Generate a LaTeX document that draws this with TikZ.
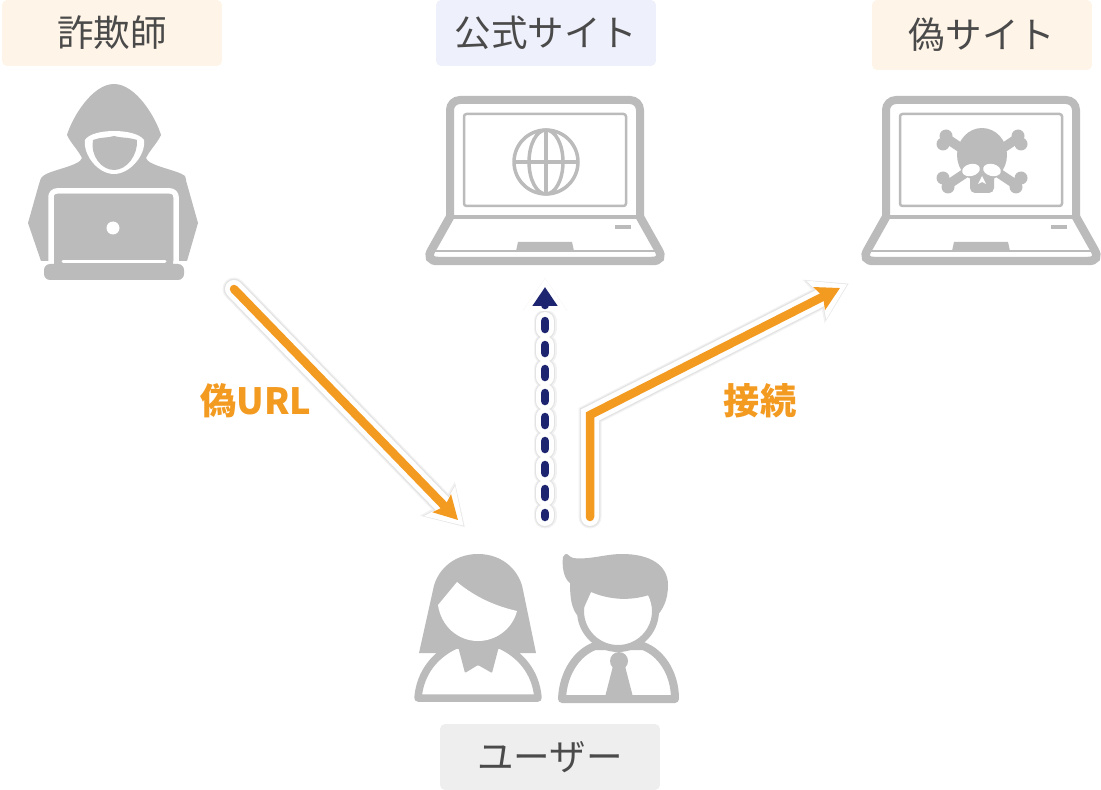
\documentclass[tikz,border=0pt]{standalone}
\usepackage{fontspec}
\setmainfont{Noto Sans CJK JP}
\usetikzlibrary{arrows.meta}
\definecolor{icongray}{HTML}{BBBBBB}
\definecolor{flowpeach}{HTML}{FFF4E8}
\definecolor{flowblue}{HTML}{EEF0FB}
\definecolor{flowgray}{HTML}{EEEEEE}
\definecolor{flowtext}{HTML}{4A4A4A}
\definecolor{floworange}{HTML}{F39A21}
\definecolor{flownavy}{HTML}{1E2570}
\tikzset{
  titlebox/.style={rounded corners=.1cm,minimum width=4.4cm,minimum height=1.32cm,inner sep=0pt,text=flowtext,font=\fontsize{20.8}{24}\selectfont},
  flowlabel/.style={text=floworange,inner sep=0pt,font=\fontsize{20.6}{24}\selectfont\bfseries},
  solidbase/.style={line width=.17cm,line cap=round,-{Stealth[length=.46cm,width=.5cm,inset=.08cm]}},
  solidhalo/.style={line width=.36cm,line cap=round,draw=white,shorten >=-.16cm,-{Stealth[length=.68cm,width=.84cm,inset=.12cm]}},
  solidblur/.style={line width=.46cm,line cap=round,draw=black!5,shift={(2.5,2.5)},shorten >=-.2cm,-{Stealth[length=.78cm,width=.94cm,inset=.12cm]}},
  solidshade/.style={line width=.41cm,line cap=round,draw=black!11,shift={(1.5,1.5)},shorten >=-.18cm,-{Stealth[length=.72cm,width=.88cm,inset=.12cm]}},
  solidline/.style={solidbase,draw=floworange},
  dashbase/.style={line width=.17cm,line cap=round,dash pattern=on .16cm off .32cm,dash phase=.08cm,-{Triangle[length=.38cm,width=.48cm]}},
  dashhalo/.style={line width=.36cm,line cap=round,draw=white,dash pattern=on .16cm off .32cm,dash phase=.08cm,shorten >=-.18cm,-{Triangle[length=.66cm,width=.84cm]}},
  dashblur/.style={dashhalo,line width=.46cm,draw=black!5,shift={(2.5,2.5)}},
  dashshade/.style={dashhalo,line width=.41cm,draw=black!11,shift={(1.5,1.5)}},
  dashline/.style={dashbase,draw=flownavy},
  laptop/.pic={
    \draw[icongray,line width=.16cm,rounded corners=.2cm] (-95,217) -- (-95,100) -- (95,100) -- (95,217);
    \draw[icongray,line width=.05cm,rounded corners=.05cm] (-81,114) rectangle (81,206);
    \draw[icongray,line width=.08cm] (-97,217) -- (97,217);
    \draw[icongray,line width=.17cm,line cap=round] (-95,217) -- (-113,249) .. controls (-118,257) and (-115,261) .. (-107,261) -- (107,261) .. controls (115,261) and (118,257) .. (113,249) -- (95,217);
    \draw[icongray,line width=.05cm] (-110,251) -- (110,251);
    \fill[icongray] (-29,251) -- (-27,242) -- (27,242) -- (29,251) -- cycle;
    \fill[icongray] (70,225) rectangle (86,229);
  }
}
\begin{document}
\begin{tikzpicture}[x=.02cm,y=-.02cm]
  \useasboundingbox (0,0) rectangle (1101,790);
  \node (sagishi) at (112,33) [titlebox,fill=flowpeach] {詐欺師};
  \node (koushiki) at (546,33) [titlebox,fill=flowblue] {公式サイト};
  \node (nise) at (982,35) [titlebox,fill=flowpeach,minimum height=1.4cm] {偽サイト};
  \node (user) at (550,757) [titlebox,fill=flowgray] {ユーザー};
  \node (niseurl) at (256,401) [flowlabel] {偽URL};
  \node (setsuzoku) at (760,401) [flowlabel] {接続};

  \fill[icongray] (114,84) .. controls (92,84) and (72,118) .. (67,135) .. controls (70,142) and (78,150) .. (82,158) .. controls (80,166) and (50,170) .. (43,176) .. controls (40,178) and (40,182) .. (39,184) -- (28,223) -- (41,261) -- (187,261) -- (198,223) -- (187,184) .. controls (186,182) and (186,178) .. (185,176) .. controls (178,170) and (148,166) .. (146,158) .. controls (150,150) and (158,142) .. (161,135) .. controls (156,118) and (136,84) .. (114,84) -- cycle;
  \draw[white,line width=.11cm,rounded corners=.12cm] (51,264) -- (51,191) -- (176,191) -- (176,264);
  \fill[icongray,rounded corners=.06cm] (54,194) rectangle (173,270);
  \fill[icongray,rounded corners=.12cm] (44,264) -- (44,280) -- (184,280) -- (184,264) -- cycle;
  \draw[white,line width=.06cm,line cap=round] (63,262) -- (165,262);
  \fill[white] (113,228) circle (.13cm);
  \fill[white] (85,140) .. controls (92,128) and (136,128) .. (144,140) .. controls (146,155) and (130,174) .. (114,174) .. controls (98,174) and (83,155) .. (85,140) -- cycle;
  \fill[icongray] (93,140) .. controls (100,137) and (108,138) .. (114,136) .. controls (120,138) and (128,137) .. (137,140) .. controls (138,155) and (127,170) .. (114,170) .. controls (101,170) and (90,155) .. (93,140) -- cycle;

  \pic at (545,0) {laptop};
  \pic at (981,0) {laptop};
  \draw[icongray,line width=.07cm] (546,162) circle (.64cm);
  \draw[icongray,line width=.07cm] (546,162) ellipse (.34cm and .64cm);
  \draw[icongray,line width=.07cm] (546,130) -- (546,194);
  \draw[icongray,line width=.07cm] (514,162) -- (578,162);

  \draw[icongray,line width=.19cm] (949,140) -- (1015,184);
  \draw[icongray,line width=.19cm] (1015,140) -- (949,184);
  \foreach \bx/\by in {946/136,943/144,943/178,948/187,1018/136,1021/144,1021/178,1016/187}
    \fill[icongray] (\bx,\by) circle (.13cm);
  \fill[icongray] (982,155) ellipse (.5cm and .54cm);
  \fill[icongray,rounded corners=.1cm] (970,165) rectangle (994,193);
  \fill[white,rotate around={14:(971,170)}] (971,170) ellipse (.18cm and .12cm);
  \fill[white,rotate around={-14:(992,170)}] (992,170) ellipse (.18cm and .12cm);
  \fill[white] (982,176) -- (986,184) -- (982,182) -- (978,184) -- cycle;

  \fill[icongray] (478,554) .. controls (452,554) and (436,572) .. (433,590) -- (419,653) -- (536,653) -- (523,590) .. controls (520,572) and (504,554) .. (478,554) -- cycle;
  \draw[icongray,fill=white,line width=.15cm,line join=round] (418,698) .. controls (420,672) and (436,654) .. (456,645) -- (500,645) .. controls (520,654) and (536,672) .. (538,698) -- cycle;
  \fill[icongray,rounded corners=.02cm] (455,635) -- (465,673) -- (478,665) -- (492,673) -- (502,635) -- cycle;
  \fill[white] (438,605) -- (457,582) .. controls (475,597) and (495,606) .. (517,611) .. controls (512,630) and (495,641) .. (478,641) .. controls (458,641) and (441,626) .. (438,605) -- cycle;

  \draw[icongray,fill=white,line width=.16cm,line join=round] (562,699) .. controls (563,672) and (578,652) .. (595,646) -- (643,646) .. controls (660,652) and (675,672) .. (675,699) -- cycle;
  \draw[icongray,fill=white,line width=.14cm] (618,611) circle (.75cm);
  \fill[icongray] (563,557) .. controls (564,555) and (566,553) .. (567,554) .. controls (569,555) and (571,558) .. (573,558) .. controls (590,560) and (605,554) .. (622,554) .. controls (650,554) and (668,565) .. (668,585) .. controls (668,600) and (663,610) .. (655,618) -- (649,595) .. controls (630,601) and (610,600) .. (591,592) -- (582,612) -- (577,615) .. controls (572,608) and (570,600) .. (570,583) .. controls (563,578) and (562,565) .. (563,557) -- cycle;
  \fill[icongray] (619,661) circle (.18cm);
  \fill[icongray] (613,666) -- (625,666) -- (633,697) -- (605,697) -- cycle;

  \coordinate (urlfrom) at (234,289);
  \coordinate (urlto) at (458,520);
  \coordinate (goodfrom) at (545,517);
  \coordinate (goodto) at (545,287);
  \coordinate (badfrom) at (590,517);
  \coordinate (badbend) at (590,415);
  \coordinate (badto) at (840,288);
  \foreach \lay in {solidblur,solidshade,solidhalo,solidline} {
    \draw[\lay] (urlfrom) -- (urlto);
    \draw[\lay] (badfrom) -- (badbend) -- (badto);
  }
  \foreach \lay in {dashblur,dashshade,dashhalo,dashline}
    \draw[\lay] (goodfrom) -- (goodto);
\end{tikzpicture}
\end{document}
